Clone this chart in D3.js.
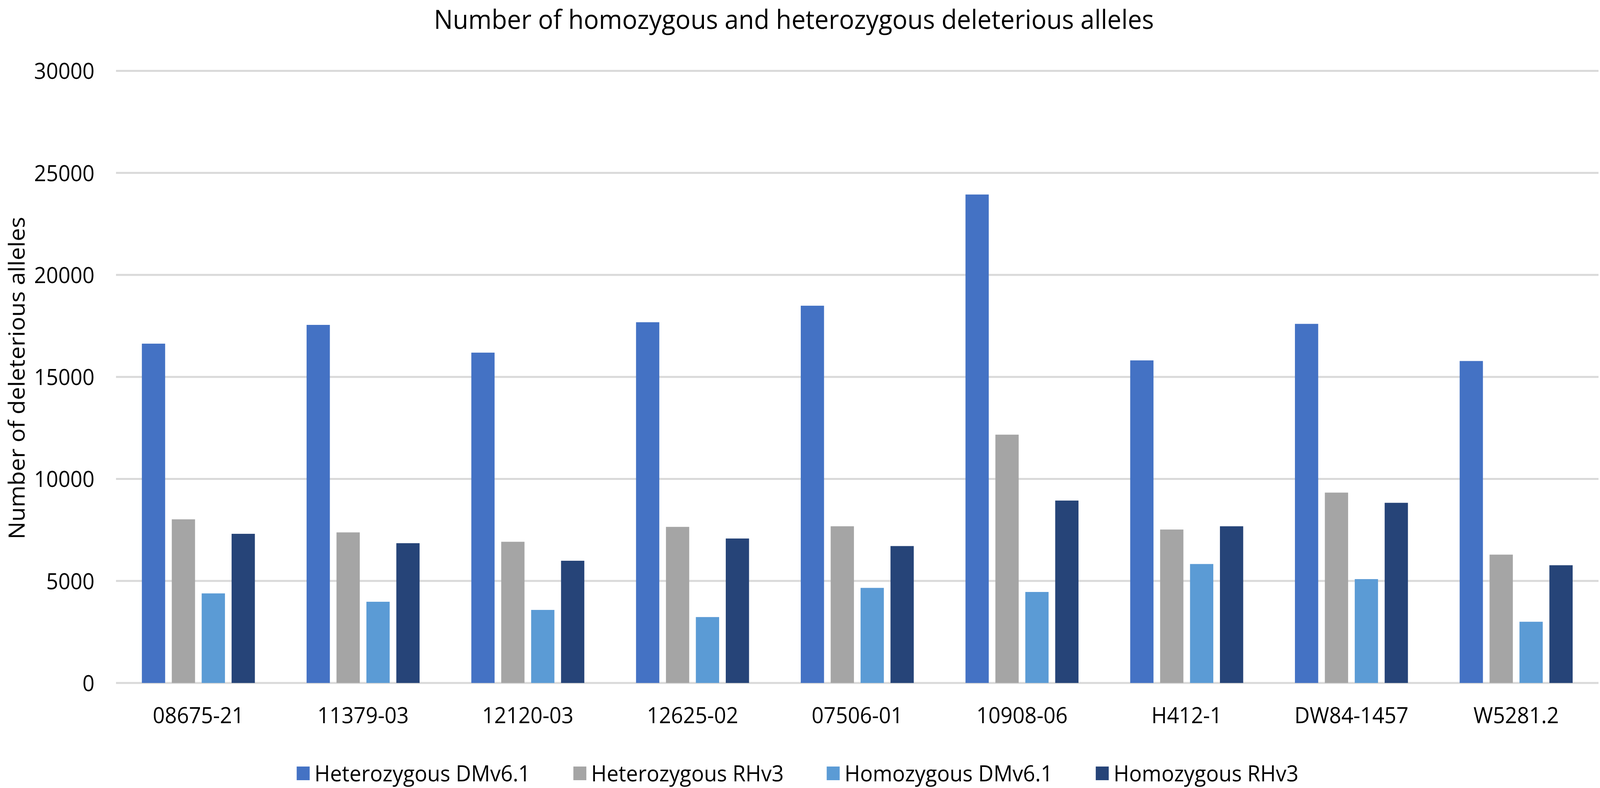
<!DOCTYPE html>
<html>
<head>
<meta charset="utf-8">
<script src="https://cdn.jsdelivr.net/npm/d3@7"></script>
<style>
  html, body { margin: 0; padding: 0; background: #fff; overflow: hidden; }
  #chart svg { display: block; }
  text { font-family: "Open Sans", "Noto Sans", sans-serif; fill: #000; }
</style>
</head>
<body>
<div id="chart"></div>
<script>
var categories = ["08675-21", "11379-03", "12120-03", "12625-02", "07506-01", "10908-06", "H412-1", "DW84-1457", "W5281.2"];
var seriesNames = ["Heterozygous DMv6.1", "Heterozygous RHv3", "Homozygous DMv6.1", "Homozygous RHv3"];
var hetDM = [16630, 17550, 16190, 17680, 18490, 23940, 15810, 17600, 15780];
var hetRH = [8020, 7380, 6920, 7650, 7680, 12170, 7520, 9330, 6290];
var homDM = [4390, 3980, 3580, 3230, 4660, 4460, 5830, 5090, 3000];
var homRH = [7310, 6850, 5990, 7080, 6710, 8940, 7680, 8830, 5770];
var yTicks = [0, 5000, 10000, 15000, 20000, 25000, 30000];
var colors = ["#4472c4", "#a5a5a5", "#5b9bd5", "#264478"];

var width = 4317;
var height = 2018;

var seriesValues = [hetDM, hetRH, homDM, homRH];
var rows = categories.map(function (c, i) {
  return {
    name: c,
    values: seriesNames.map(function (s, j) {
      return { series: s, value: seriesValues[j][i] };
    })
  };
});

/* Scales */
var x0 = d3.scaleBand()
  .domain(categories)
  .range([313, 4313])
  .paddingInner(0.314)
  .paddingOuter(0.157);

var x1 = d3.scaleBand()
  .domain(seriesNames)
  .range([0, x0.bandwidth()])
  .paddingInner(0.222);

var y = d3.scaleLinear()
  .domain([0, 30000])
  .range([1749, 181.5]);

var color = d3.scaleOrdinal().domain(seriesNames).range(colors);

// stretch the drawing over the whole viewport, whatever size it really is
var svg = d3.select("#chart")
  .append("svg")
  .attr("viewBox", "0 0 " + width + " " + height)
  .attr("preserveAspectRatio", "none")
  .style("width", "100vw")
  .style("height", "100vh");

svg.append("rect").attr("width", width).attr("height", height).attr("fill", "#fff");

/* Title */
svg.append("text")
  .attr("x", 2142)
  .attr("y", 74)
  .attr("text-anchor", "middle")
  .style("font-size", "68px")
  .text("Number of homozygous and heterozygous deleterious alleles");

/* Gridlines + y axis */
svg.append("g")
  .attr("class", "grid")
  .selectAll("line")
  .data(yTicks)
  .enter()
  .append("line")
  .attr("x1", 313)
  .attr("x2", 4313)
  .attr("y1", (d) => y(d))
  .attr("y2", (d) => y(d))
  .attr("stroke", "#d9d9d9")
  .attr("stroke-width", 5);

var yAxis = d3.axisLeft(y).tickValues(yTicks).tickFormat(d3.format("d")).tickSize(0).tickPadding(0);
var gy = svg.append("g")
  .attr("class", "y axis")
  .attr("transform", "translate(255,0)")
  .call(yAxis);
gy.select(".domain").remove();
gy.selectAll("text")
  .attr("x", 0)
  .attr("dy", "0.357em")
  .style("font-size", "57px")
  .style("fill", "#000");

svg.append("text")
  .attr("transform", "translate(66," + (y(15000) + 3) + ") rotate(-90)")
  .attr("text-anchor", "middle")
  .style("font-size", "60px")
  .text("Number of deleterious alleles");

/* Bars */
svg.append("g")
  .selectAll("g")
  .data(rows)
  .enter()
  .append("g")
  .attr("transform", (d) => "translate(" + x0(d.name) + ",0)")
  .selectAll("rect")
  .data((d) => d.values)
  .enter()
  .append("rect")
  .attr("x", (d) => x1(d.series))
  .attr("y", (d) => y(d.value))
  .attr("width", x1.bandwidth())
  .attr("height", (d) => y(0) - y(d.value))
  .attr("fill", (d) => color(d.series));

/* X axis labels */
var xAxis = d3.axisBottom(x0).tickSize(0).tickPadding(0);
var gx = svg.append("g")
  .attr("class", "x axis")
  .attr("transform", "translate(0,1832)")
  .call(xAxis);
gx.select(".domain").remove();
gx.selectAll("text")
  .attr("y", 0)
  .attr("dy", "0.357em")
  .style("font-size", "57px")
  .style("fill", "#000");

/* Legend */
var legend = svg.append("g").attr("class", "legend");
var items = legend.selectAll("g")
  .data(seriesNames)
  .enter()
  .append("g");
items.append("rect")
  .attr("y", 1963)
  .attr("width", 35)
  .attr("height", 35)
  .attr("fill", (d) => color(d));
items.append("text")
  .attr("x", 48)
  .attr("y", 2001)
  .style("font-size", "57px")
  .text((d) => d);

var offsets = [];
var pos = 0;
items.each(function () {
  offsets.push(pos);
  var w = d3.select(this).select("text").node().getComputedTextLength();
  pos += 48 + w + 116;
});
var total = pos - 116;
var start = 2152 - total / 2;
items.attr("transform", (d, i) => "translate(" + (start + offsets[i]) + ",0)");
</script>
</body>
</html>
